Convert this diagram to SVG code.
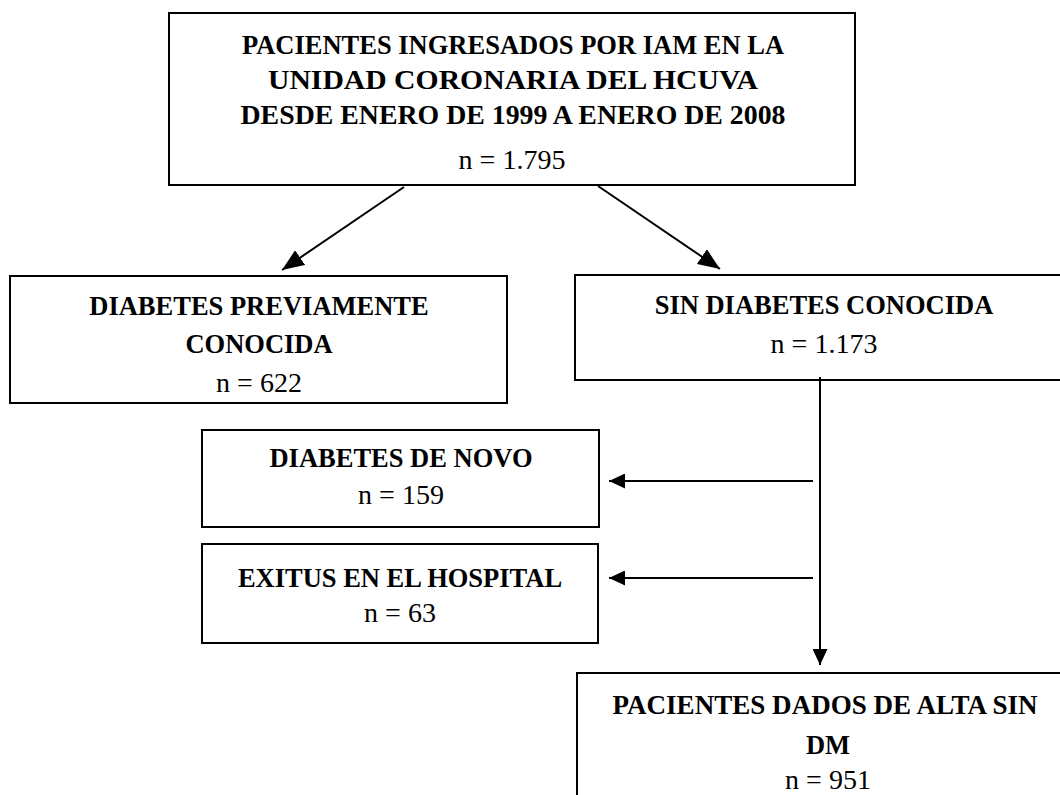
<svg xmlns="http://www.w3.org/2000/svg" width="1060" height="795" viewBox="0 0 1060 795">
<style>
.box{fill:#fff;stroke:#000;stroke-width:2}
.b{font-family:"Liberation Serif",serif;font-weight:bold;font-size:26.5px;text-anchor:middle;fill:#000}
.r{font-family:"Liberation Serif",serif;font-size:28px;text-anchor:middle;fill:#000}
.c{stroke:#000;stroke-width:2;fill:none;marker-end:url(#ah)}
.d{stroke:#000;stroke-width:2;fill:none;marker-end:url(#ahb)}
</style>
<defs>
<marker id="ah" viewBox="0 0 16 15" refX="16" refY="7.5" markerWidth="16" markerHeight="15" markerUnits="userSpaceOnUse" orient="auto">
<path d="M0,0 L16,7.5 L0,15 Z" fill="#000"/>
</marker>
<marker id="ahb" viewBox="0 0 22 18" refX="22" refY="9" markerWidth="22" markerHeight="18" markerUnits="userSpaceOnUse" orient="auto">
<path d="M0,0 L22,9 L0,18 Z" fill="#000"/>
</marker>
</defs>
<rect width="1060" height="795" fill="#fff"/>
<g id="n-top">
<rect class="box" x="169" y="13" width="686" height="172"/>
<text class="b" x="513" y="54">PACIENTES INGRESADOS POR IAM EN LA</text>
<text class="b" x="513" y="89" textLength="490" lengthAdjust="spacingAndGlyphs">UNIDAD CORONARIA DEL HCUVA</text>
<text class="b" x="513" y="124" textLength="545" lengthAdjust="spacingAndGlyphs">DESDE ENERO DE 1999 A ENERO DE 2008</text>
<text class="r" x="512" y="169">n = 1.795</text>
</g>
<g id="n-prev">
<rect class="box" x="10" y="276" width="497" height="127"/>
<text class="b" x="259" y="315">DIABETES PREVIAMENTE</text>
<text class="b" x="259" y="353">CONOCIDA</text>
<text class="r" x="259" y="392">n = 622</text>
</g>
<g id="n-sin">
<rect class="box" x="575" y="275" width="500" height="105"/>
<text class="b" x="824" y="314">SIN DIABETES CONOCIDA</text>
<text class="r" x="824" y="353">n = 1.173</text>
</g>
<g id="n-novo">
<rect class="box" x="202" y="430" width="397" height="97"/>
<text class="b" x="401" y="467">DIABETES DE NOVO</text>
<text class="r" x="401" y="504">n = 159</text>
</g>
<g id="n-exitus">
<rect class="box" x="202" y="544" width="396" height="99"/>
<text class="b" x="400" y="587">EXITUS EN EL HOSPITAL</text>
<text class="r" x="400" y="622">n = 63</text>
</g>
<g id="n-alta">
<rect class="box" x="577" y="673" width="500" height="140"/>
<text class="b" x="825" y="714" textLength="425" lengthAdjust="spacingAndGlyphs">PACIENTES DADOS DE ALTA SIN</text>
<text class="b" x="828" y="754">DM</text>
<text class="r" x="828" y="789">n = 951</text>
</g>
<g id="connectors">
<path class="d" d="M404,187 L282,270"/>
<path class="d" d="M598,186 L720,269"/>
<path class="c" d="M820,377 L820,665"/>
<path class="c" d="M813,481 L609,481"/>
<path class="c" d="M813,578 L609,578"/>
</g>
</svg>
